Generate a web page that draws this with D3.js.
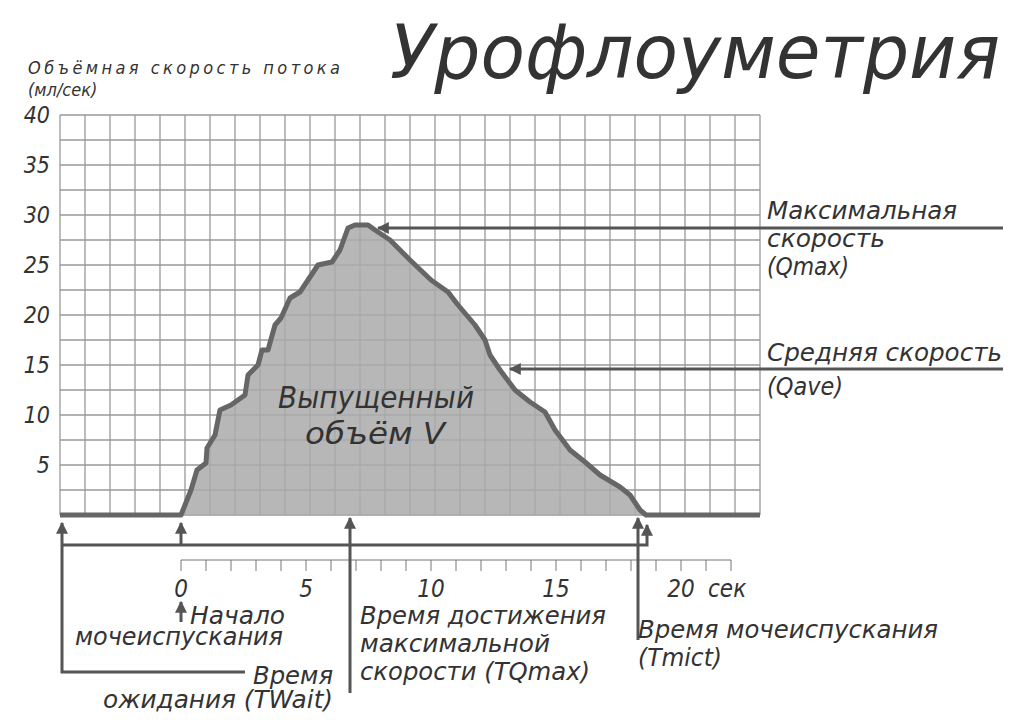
<!DOCTYPE html>
<html>
<head>
<meta charset="utf-8">
<script src="https://cdn.jsdelivr.net/npm/d3@7"></script>
<style>
body { margin: 0; background: #fff; }
text { font-family: "DejaVu Sans Condensed", "Liberation Sans Narrow", sans-serif; font-style: italic; fill: #333; }
</style>
</head>
<body>
<svg width="1024" height="720"></svg>
<script>
// время, сек
var times = [-4.84, 0, 0.4, 0.64, 1, 1.04, 1.36, 1.56, 2, 2.56, 2.68, 3.08, 3.24, 3.48, 3.76, 4, 4.36, 4.76, 5.08, 5.48, 6.04, 6.36, 6.68, 6.96, 7.48, 7.76, 8.36, 9.16, 10, 10.68, 11.08, 11.76, 12.16, 12.36, 12.76, 13.36, 13.96, 14.56, 14.96, 15.56, 16.16, 16.76, 17.56, 17.96, 18.36, 18.6, 23.16];
// скорость потока, мл/сек
var flow = [0, 0, 2.5, 4.5, 5.2, 6.7, 8, 10.5, 11, 12, 14, 15, 16.5, 16.5, 19, 19.7, 21.7, 22.3, 23.5, 25, 25.3, 26.5, 28.7, 29, 29, 28.5, 27.5, 25.5, 23.5, 22.3, 21, 19, 17.5, 16, 14.5, 12.5, 11.3, 10.3, 8.5, 6.5, 5.3, 4, 2.8, 2, 0.5, 0, 0];
var yTicks = [5, 10, 15, 20, 25, 30, 35, 40];
var xTicks = [0, 5, 10, 15, 20];

var svg = d3.select("svg");
var x = d3.scaleLinear().domain([0, 20]).range([181, 681]);
var y = d3.scaleLinear().domain([0, 40]).range([515, 115]);
var ink = "#555";

// сетка
var grid = svg.append("g").attr("stroke", "#999").attr("stroke-width", 1.3);
d3.range(0, 29).forEach(function (i) {
  grid.append("line").attr("x1", 60 + i * 25).attr("x2", 60 + i * 25).attr("y1", 115).attr("y2", 515);
});
d3.range(0, 17).forEach(function (i) {
  grid.append("line").attr("x1", 60).attr("x2", 760).attr("y1", y(i * 2.5)).attr("y2", y(i * 2.5));
});

var pts = times.map(function (t, i) { return [t, flow[i]]; });
var area = d3.area().x(function (d) { return x(d[0]); }).y0(y(0)).y1(function (d) { return y(d[1]); });
var line = d3.line().x(function (d) { return x(d[0]); }).y(function (d) { return y(d[1]); });

svg.append("path").attr("d", area(pts)).attr("fill", "#aaa").attr("opacity", 0.85);
svg.append("path").attr("d", line(pts)).attr("fill", "none").attr("stroke", "#666").attr("stroke-width", 5).attr("stroke-linejoin", "round");

// ось Y
svg.selectAll(".yt").data(yTicks).enter().append("text")
  .attr("x", 50).attr("y", function (d) { return y(d) + 8; })
  .attr("text-anchor", "end").attr("font-size", 23).text(function (d) { return d; });

svg.append("text").attr("x", 28).attr("y", 74).attr("font-size", 18).attr("textLength", 312).text("Объёмная скорость потока");
svg.append("text").attr("x", 28).attr("y", 96).attr("font-size", 18).text("(мл/сек)");

// заголовок
svg.append("text").attr("x", 390).attr("y", 78).attr("font-size", 74)
  .attr("textLength", 610).attr("lengthAdjust", "spacingAndGlyphs").text("Урофлоуметрия");

// ось X
svg.append("line").attr("x1", x(0)).attr("x2", x(22)).attr("y1", 560).attr("y2", 560).attr("stroke", "#777").attr("stroke-width", 1);
svg.selectAll(".xt").data(d3.range(0, 23)).enter().append("line")
  .attr("x1", function (d) { return x(d); }).attr("x2", function (d) { return x(d); })
  .attr("y1", 560).attr("y2", 571).attr("stroke", "#777");
svg.selectAll(".xl").data(xTicks).enter().append("text")
  .attr("x", function (d) { return x(d); }).attr("y", 597)
  .attr("text-anchor", "middle").attr("font-size", 24).text(function (d) { return d; });
svg.append("text").attr("x", x(20) + 27).attr("y", 597).attr("font-size", 24).text("сек");

// стрелки
svg.append("defs").append("marker").attr("id", "ar").attr("viewBox", "0 0 10 10")
  .attr("refX", 9).attr("refY", 5).attr("markerWidth", 4).attr("markerHeight", 4).attr("orient", "auto")
  .append("path").attr("d", "M0,0L10,5L0,10z").attr("fill", ink);
function arrow(pts, head) {
  var p = svg.append("path").attr("d", d3.line()(pts)).attr("fill", "none").attr("stroke", ink)
    .attr("stroke-width", 3);
  if (head !== false) p.attr("marker-end", "url(#ar)");
}
arrow([[1003, 228], [378, 228]]);
arrow([[1003, 369], [510, 369]]);
arrow([[62, 545], [62, 523]]);
arrow([[x(0), 545], [x(0), 523]]);
arrow([[62, 545], [647, 545], [647, 525]]);
arrow([[350, 693], [350, 518]]);
arrow([[638, 640], [638, 518]]);
arrow([[62, 545], [62, 672], [245, 672]], false);
arrow([[x(0), 622], [x(0), 602]]);

function label(tx, ty, lines, size, len) {
  lines.forEach(function (s, i) {
    var t = svg.append("text").attr("x", tx).attr("y", ty + i * 28).attr("font-size", size || 24).text(s);
    if (len) t.attr("textLength", len[i]).attr("lengthAdjust", "spacingAndGlyphs");
  });
}
label(767, 219, ["Максимальная", "скорость", "(Qmax)"], 24, [190, 118, 82]);
label(767, 361, ["Средняя скорость"], 24, [235]);
label(767, 395, ["(Qave)"], 24, [76]);
label(278, 408, ["Выпущенный"], 30, [196]);
label(305, 444, ["объём V"], 30, [140]);
label(190, 624, ["Начало"], 24, [95]);
label(75, 645, ["мочеиспускания"], 24, [208]);
label(253, 684, ["Время"], 24, [80]);
label(103, 708, ["ожидания (TWait)"], 24, [230]);
label(360, 624, ["Время достижения", "максимальной", "скорости (TQmax)"], 24, [246, 190, 230]);
label(638, 638, ["Время мочеиспускания", "(Tmict)"], 24, [300, 84]);
</script>
</body>
</html>
